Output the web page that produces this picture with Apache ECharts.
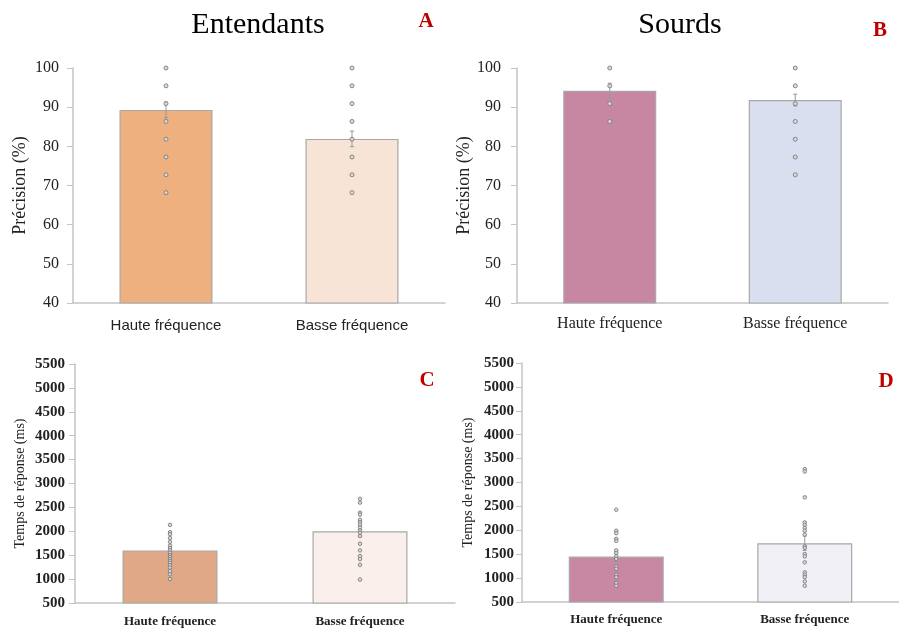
<!DOCTYPE html>
<html>
<head>
<meta charset="utf-8">
<script src="https://cdn.jsdelivr.net/npm/echarts@6/dist/echarts.min.js"></script>
<style>
  html, body { margin: 0; padding: 0; background: #fff; }
  #chart { width: 899px; height: 630px; }
</style>
</head>
<body>
<div id="chart"></div>
<script>
// Conditions shown on every panel
const categories = ['Haute fréquence', 'Basse fréquence'];

// Panel A — Entendants, précision (%)
const meanA = [89.3, 81.9];
const seA = [2.0, 2.0];
const dotsA_haute = [100, 95.45, 90.91, 86.36, 81.82, 77.27, 72.73, 68.18];
const dotsA_basse = [100, 95.45, 90.91, 86.36, 81.82, 77.27, 72.73, 68.18];

// Panel B — Sourds, précision (%)
const meanB = [94.2, 91.8];
const seB = [1.9, 1.5];
const dotsB_haute = [100, 95.45, 90.91, 86.36];
const dotsB_basse = [100, 95.45, 90.91, 86.36, 81.82, 77.27, 72.73];

// Panel C — Entendants, temps de réponse (ms)
const meanC = [1600, 2000];
const seC = [80, 110];
const dotsC_haute = [2135, 1980, 1940, 1860, 1780, 1700, 1650, 1600, 1550, 1500,
                     1460, 1420, 1380, 1340, 1290, 1240, 1170, 1100, 1000];
const dotsC_basse = [2680, 2600, 2390, 2350, 2240, 2190, 2140, 2080, 2020, 1970,
                     1900, 1740, 1600, 1480, 1420, 1300, 990];

// Panel D — Sourds, temps de réponse (ms)
const meanD = [1450, 1730];
const seD = [100, 150];
const dotsD_haute = [2430, 1990, 1940, 1820, 1780, 1580, 1525, 1455, 1400, 1245,
                     1195, 1070, 1020, 900, 840];
const dotsD_basse = [3280, 3230, 2690, 2165, 2115, 2050, 1990, 1910, 1665, 1630,
                     1505, 1455, 1330, 1120, 1070, 1020, 930, 840];

// Axis ranges
const precisionAxis = { min: 40, max: 100, interval: 10 };
const rtAxis = { min: 500, max: 5500, interval: 500 };

const barColors = {
  A: ['#EEB07F', '#F8E4D6'],
  B: ['#C787A2', '#DADFEF'],
  C: ['#E0A886', '#FAEFEA'],
  D: ['#C887A3', '#F0F0F6']
};

const serif = '"Liberation Serif", "Times New Roman", serif';
const sans = '"Liberation Sans", Helvetica, Arial, sans-serif';
const axisGrey = '#C4C4C4';

const chart = echarts.init(document.getElementById('chart'), null, { renderer: 'canvas' });

const grids = [
  { left: 73, top: 68, width: 372, height: 235 },
  { left: 517, top: 68, width: 371, height: 235 },
  { left: 75, top: 364, width: 380, height: 239 },
  { left: 522, top: 363, width: 378, height: 239 }
];

function xAxisFor(i, font, size, weight, margin) {
  return {
    type: 'category', gridIndex: i, data: categories,
    axisLine: { lineStyle: { color: axisGrey, width: 1.5 } },
    axisTick: { show: false },
    axisLabel: { fontFamily: font, fontSize: size, fontWeight: weight, color: '#222', margin: margin }
  };
}

function yAxisFor(i, range, name, size, weight, margin, nameSize, nameGap) {
  return {
    type: 'value', gridIndex: i, min: range.min, max: range.max, interval: range.interval,
    name: name, nameLocation: 'middle', nameRotate: 90, nameGap: nameGap,
    nameTextStyle: { fontFamily: serif, fontSize: nameSize, color: '#222' },
    splitLine: { show: false },
    axisLine: { show: true, lineStyle: { color: axisGrey, width: 1.5 } },
    axisTick: { show: true, length: 6, lineStyle: { color: axisGrey } },
    axisLabel: {
      fontFamily: serif, fontSize: size, fontWeight: weight, color: '#222', margin: margin,
      formatter: v => String(v)
    }
  };
}

function barSeries(i, means, colors, width) {
  return {
    type: 'bar', xAxisIndex: i, yAxisIndex: i, barWidth: width,
    data: means.map((v, k) => ({
      value: v,
      itemStyle: { color: colors[k], borderColor: '#A8A8A8', borderWidth: 1.2 }
    })),
    z: 2
  };
}

function errorSeries(i, means, se) {
  return {
    type: 'custom', xAxisIndex: i, yAxisIndex: i, z: 3,
    data: means.map((m, k) => [k, m - se[k], m + se[k]]),
    renderItem: function (params, api) {
      const lo = api.coord([api.value(0), api.value(1)]);
      const hi = api.coord([api.value(0), api.value(2)]);
      const cap = 2;
      const st = { stroke: '#999', lineWidth: 1 };
      return {
        type: 'group',
        children: [
          { type: 'line', shape: { x1: lo[0], y1: lo[1], x2: hi[0], y2: hi[1] }, style: st },
          { type: 'line', shape: { x1: lo[0] - cap, y1: lo[1], x2: lo[0] + cap, y2: lo[1] }, style: st },
          { type: 'line', shape: { x1: hi[0] - cap, y1: hi[1], x2: hi[0] + cap, y2: hi[1] }, style: st }
        ]
      };
    }
  };
}

function dotSeries(i, dotsHaute, dotsBasse, size) {
  const data = dotsHaute.map(v => [0, v]).concat(dotsBasse.map(v => [1, v]));
  return {
    type: 'scatter', xAxisIndex: i, yAxisIndex: i, z: 4,
    symbol: 'circle', symbolSize: size,
    itemStyle: { color: '#DADADA', borderColor: '#808080', borderWidth: 1, opacity: 0.95 },
    data: data
  };
}

const option = {
  animation: false,
  backgroundColor: '#fff',
  grid: grids,
  xAxis: [
    xAxisFor(0, sans, 15, 'normal', 15),
    xAxisFor(1, serif, 16, 'normal', 13),
    xAxisFor(2, serif, 13, 'bold', 12),
    xAxisFor(3, serif, 13, 'bold', 11)
  ],
  yAxis: [
    yAxisFor(0, precisionAxis, 'Précision (%)', 16, 'normal', 14, 18, 44),
    yAxisFor(1, precisionAxis, 'Précision (%)', 16, 'normal', 16, 18, 43),
    yAxisFor(2, rtAxis, 'Temps de réponse (ms)', 15, 'bold', 10, 14, 48),
    yAxisFor(3, rtAxis, 'Temps de réponse (ms)', 15, 'bold', 8, 14, 47)
  ],
  series: [
    barSeries(0, meanA, barColors.A, 93),
    errorSeries(0, meanA, seA),
    dotSeries(0, dotsA_haute, dotsA_basse, 4),
    barSeries(1, meanB, barColors.B, 93),
    errorSeries(1, meanB, seB),
    dotSeries(1, dotsB_haute, dotsB_basse, 4),
    barSeries(2, meanC, barColors.C, 95),
    errorSeries(2, meanC, seC),
    dotSeries(2, dotsC_haute, dotsC_basse, 3.5),
    barSeries(3, meanD, barColors.D, 95),
    errorSeries(3, meanD, seD),
    dotSeries(3, dotsD_haute, dotsD_basse, 3.5)
  ],
  graphic: [
    { type: 'text', x: 258, y: 25, style: { text: 'Entendants', font: '30px ' + serif, fill: '#000', textAlign: 'center', textVerticalAlign: 'middle' } },
    { type: 'text', x: 680, y: 25, style: { text: 'Sourds', font: '30px ' + serif, fill: '#000', textAlign: 'center', textVerticalAlign: 'middle' } },
    { type: 'text', x: 426, y: 22, style: { text: 'A', font: 'bold 21px ' + serif, fill: '#C00000', textAlign: 'center', textVerticalAlign: 'middle' } },
    { type: 'text', x: 880, y: 31, style: { text: 'B', font: 'bold 21px ' + serif, fill: '#C00000', textAlign: 'center', textVerticalAlign: 'middle' } },
    { type: 'text', x: 427, y: 381, style: { text: 'C', font: 'bold 21px ' + serif, fill: '#C00000', textAlign: 'center', textVerticalAlign: 'middle' } },
    { type: 'text', x: 886, y: 382, style: { text: 'D', font: 'bold 21px ' + serif, fill: '#C00000', textAlign: 'center', textVerticalAlign: 'middle' } }
  ]
};

chart.setOption(option);
</script>
</body>
</html>
